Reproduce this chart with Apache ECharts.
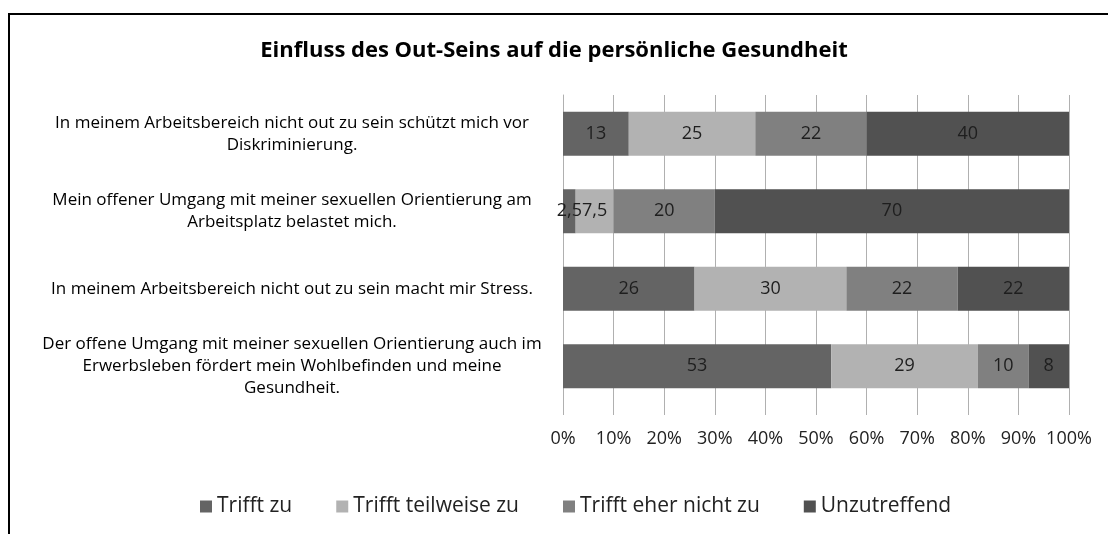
<!DOCTYPE html>
<html lang="de">
<head>
    <meta charset="UTF-8">
    <title>Einfluss des Out-Seins</title>
    <script src="https://cdn.jsdelivr.net/npm/echarts@6/dist/echarts.min.js"></script>
    <style>
        body { margin: 0; background: #fff; }
        #chart { width: 1108px; height: 534px; }
    </style>
</head>
<body>
<div id="chart"></div>
<script>
    // Aussagen (von oben nach unten)
    var categories = [
        'In meinem Arbeitsbereich nicht out zu sein schützt mich vor\nDiskriminierung.',
        'Mein offener Umgang mit meiner sexuellen Orientierung am\nArbeitsplatz belastet mich.',
        'In meinem Arbeitsbereich nicht out zu sein macht mir Stress.',
        'Der offene Umgang mit meiner sexuellen Orientierung auch im\nErwerbsleben fördert mein Wohlbefinden und meine\nGesundheit.'
    ];
    var seriesNames = ['Trifft zu', 'Trifft teilweise zu', 'Trifft eher nicht zu', 'Unzutreffend'];
    var triffZu = [13, 2.5, 26, 53];
    var teilweise = [25, 7.5, 30, 29];
    var eherNicht = [22, 20, 22, 10];
    var unzutreffend = [40, 70, 22, 8];
    var xTicks = ['0%', '10%', '20%', '30%', '40%', '50%', '60%', '70%', '80%', '90%', '100%'];

    var colors = ['#646464', '#b2b2b2', '#808080', '#515151'];
    var values = [triffZu, teilweise, eherNicht, unzutreffend];
    var FONT = 'Open Sans';

    var series = [];
    for (var i = 0; i < seriesNames.length; i++) {
        series.push({
            name: seriesNames[i],
            type: 'bar',
            stack: 'all',
            barWidth: 44,
            itemStyle: { color: colors[i] },
            label: {
                show: true,
                position: 'inside',
                color: '#1e1e1e',
                fontFamily: FONT,
                fontSize: 18,
                formatter: function (p) { return String(p.value).replace('.', ','); }
            },
            data: values[i]
        });
    }

    var chart = echarts.init(document.getElementById('chart'));
    var option = {
        animation: false,
        backgroundColor: '#fff',
        textStyle: { fontFamily: FONT },
        graphic: [{
            type: 'rect',
            shape: { x: 9, y: 14, width: 1200, height: 600 },
            style: { fill: 'none', stroke: '#000', lineWidth: 2 },
            silent: true
        }],
        title: {
            text: 'Einfluss des Out-Seins auf die persönliche Gesundheit',
            left: 'center',
            top: 35,
            textStyle: { fontFamily: FONT, fontSize: 22, fontWeight: 'bold', color: '#000' }
        },
        legend: {
            bottom: 12,
            left: 195,
            itemWidth: 12,
            itemHeight: 12,
            itemGap: 44,
            itemTextGap: 6,
            icon: 'rect',
            textStyle: { fontFamily: FONT, fontSize: 21, color: '#222' },
            data: seriesNames
        },
        grid: { left: 563, right: 39, top: 95, bottom: 129 },
        xAxis: {
            type: 'value',
            min: 0,
            max: 100,
            interval: 10,
            axisLine: { show: false },
            axisTick: { show: true, length: 10, lineStyle: { color: '#b0b0b0' } },
            splitLine: { show: true, lineStyle: { color: '#b0b0b0', width: 1 } },
            axisLabel: {
                margin: 25,
                fontFamily: FONT,
                fontSize: 18,
                color: '#222',
                formatter: function (v) { return xTicks[Math.round(v / 10)]; }
            }
        },
        yAxis: {
            type: 'category',
            inverse: true,
            data: categories,
            axisLine: { show: true, lineStyle: { color: '#b0b0b0' } },
            axisTick: { show: false },
            axisLabel: {
                margin: 271,
                align: 'center',
                fontFamily: FONT,
                fontSize: 17,
                lineHeight: 22,
                color: '#000'
            }
        },
        series: series
    };
    chart.setOption(option);
</script>
</body>
</html>
